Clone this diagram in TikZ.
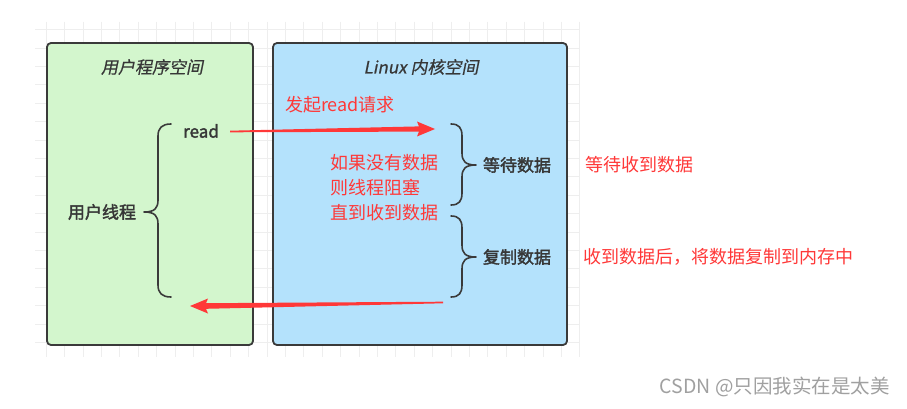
\documentclass[tikz,border=0pt]{standalone}
\usepackage{fontspec}
\setmainfont{Noto Sans CJK SC}
\newfontfamily\slantfont[FakeSlant=0.2,FakeBold=0.6]{Noto Sans CJK SC}
\newfontfamily\heavyfont[FakeBold=2]{Noto Sans CJK SC}
\usetikzlibrary{calc}
\definecolor{usergreen}{RGB}{211,246,205}
\definecolor{kernelblue}{RGB}{180,226,252}
\definecolor{boxborder}{RGB}{58,58,58}
\definecolor{redtext}{RGB}{255,56,56}
\definecolor{labelgray}{RGB}{55,55,55}
\definecolor{gridgray}{RGB}{238,238,238}
\definecolor{markgray}{RGB}{160,160,160}
\tikzset{
  spacebox/.style={draw=boxborder,line width=1.8pt,rounded corners=4pt},
  titletext/.style={font=\slantfont\fontsize{17}{20}\selectfont,text=labelgray,inner sep=0pt},
  graylabel/.style={font=\heavyfont\fontsize{17}{20}\selectfont,text=labelgray,inner sep=0pt},
  redlabel/.style={font=\fontsize{18}{25}\selectfont,text=redtext,inner sep=0pt},
  bracepath/.style={draw=boxborder,line width=1.6pt,line cap=round,line join=round},
  redarrow/.style={fill=redtext,draw=none},
  gridline/.style={draw=gridgray,line width=0.6pt}
}
\begin{document}
\begin{tikzpicture}[x=1pt,y=-1pt]
\fill[white] (0,0) rectangle (907,409);
\useasboundingbox (0,0) rectangle (907,409);
% grid
\foreach \k in {0,...,29} { \draw[gridline] ({46+18.4*\k},22) -- ({46+18.4*\k},357); }
\foreach \k in {0,...,17} { \draw[gridline] (35,{29.5+18.4*\k}) -- (580,{29.5+18.4*\k}); }
% boxes
\draw[spacebox,fill=usergreen] (47,43) rectangle (253,345);
\draw[spacebox,fill=kernelblue] (273,43) rectangle (567,345);
\node[titletext] (usertitle) at (152,67) {用户程序空间};
\node[titletext] (kerneltitle) at (421,67) {Linux 内核空间};
% labels
\node[graylabel,anchor=west] (read) at (183,131) {read};
\node[graylabel] (thread) at (102,212) {用户线程};
\node[graylabel] (wait) at (517,165) {等待数据};
\node[graylabel] (copy) at (517,257) {复制数据};
\node[redlabel] (issue) at (340,105) {发起read请求};
\node[redlabel,anchor=west,align=left] (block) at (330,188) {如果没有数据\\则线程阻塞\\直到收到数据};
\node[redlabel,anchor=west] (waitnote) at (585,165) {等待收到数据};
\node[redlabel,anchor=west] (copynote) at (583,257) {收到数据后，将数据复制到内存中};
\node[font=\fontsize{19.5}{23}\selectfont,text=markgray,anchor=east,inner sep=0pt] (mark) at (890,387) {CSDN @只因我实在是太美};
% braces
\draw[bracepath] (171,124) .. controls (162,124) and (158,128) .. (158,136) -- (158,200)
  .. controls (158,208) and (155,212) .. (144,212)
  .. controls (155,212) and (158,216) .. (158,224) -- (158,285)
  .. controls (158,293) and (162,297) .. (171,297);
\draw[bracepath] (451,124) .. controls (459,124) and (462,128) .. (462,136) -- (462,153)
  .. controls (462,161) and (465,165) .. (476,165)
  .. controls (465,165) and (462,169) .. (462,177) -- (462,193)
  .. controls (462,201) and (459,205) .. (451,205);
\draw[bracepath] (451,216) .. controls (459,216) and (462,220) .. (462,228) -- (462,245)
  .. controls (462,253) and (465,257) .. (476,257)
  .. controls (465,257) and (462,261) .. (462,269) -- (462,285)
  .. controls (462,293) and (459,297) .. (451,297);
% arrows
\coordinate (r1) at (230,131.5);
\coordinate (h1) at (435,129);
\fill[redarrow] ($(r1)+(0,-0.8)$) -- ($(h1)+(-16,-2.6)$) -- ($(h1)+(-18,-7.5)$) -- (h1)
  -- ($(h1)+(-18,7.5)$) -- ($(h1)+(-16,2.6)$) -- ($(r1)+(0,0.8)$) -- cycle;
\coordinate (t2) at (443,302.5);
\coordinate (h2) at (190,306);
\fill[redarrow] ($(t2)+(0,-0.8)$) -- ($(h2)+(16,-2.8)$) -- ($(h2)+(18,-7.5)$) -- (h2)
  -- ($(h2)+(18,7.5)$) -- ($(h2)+(16,2.8)$) -- ($(t2)+(0,0.8)$) -- cycle;
\end{tikzpicture}
\end{document}
